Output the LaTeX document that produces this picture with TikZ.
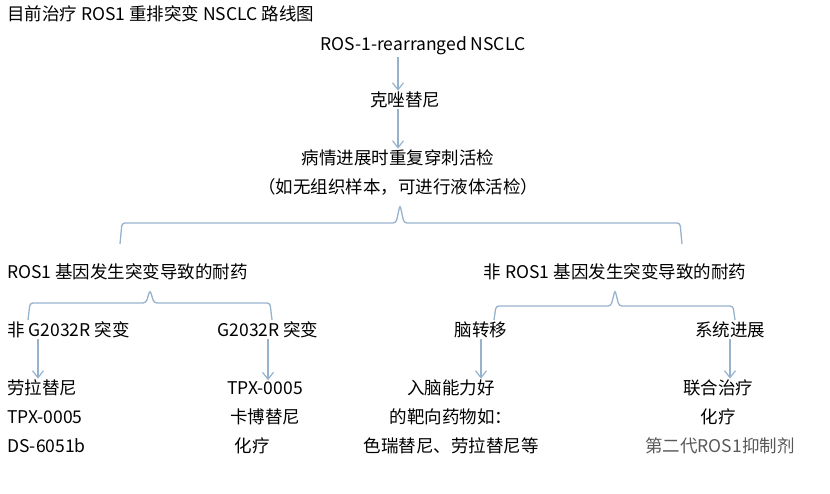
\documentclass[tikz,border=0pt]{standalone}
\usepackage{fontspec}
\setmainfont{Noto Sans CJK SC}
\usetikzlibrary{positioning,arrows.meta}
\definecolor{linkblue}{RGB}{150,178,205}
\tikzset{
  txt/.style={inner sep=1pt, font=\fontsize{17.5}{20}\selectfont},
  arr/.style={draw=linkblue, line width=1.2pt, -{Straight Barb[length=7pt,width=11pt]}},
  brace/.style={draw=linkblue, line width=1.3pt, rounded corners=3pt}
}
\begin{document}
\begin{tikzpicture}[x=1pt,y=-1pt]
	\useasboundingbox (0,0) rectangle (830,494);

	% top chain
	\node[txt, anchor=west] (title) at (6,14) {目前治疗 ROS1 重排突变 NSCLC 路线图};
	\node[txt] (ros) at (423,46) {ROS-1-rearranged NSCLC};
	\node[txt] (criz) at (405,100) {克唑替尼};
	\node[txt] (biopsy) at (398,158) {病情进展时重复穿刺活检};
	\node[txt] (liquid) at (398,187) {（如无组织样本，可进行液体活检）};
	\draw[arr] (398,57) -- (criz.north -| 398,0);
	\draw[arr] (criz.south -| 398,0) -- (biopsy.north -| 398,0);

	% main brace
	\draw[brace] (120,244) -- (122,223) -- (396,223) -- (400,205) -- (404,223) -- (680,223) -- (682,244);

	\node[txt, anchor=west] (mut) at (6,272) {ROS1 基因发生突变导致的耐药};
	\node[txt] (nonmut) at (615,272) {非 ROS1 基因发生突变导致的耐药};

	% sub braces
	\draw[brace] (28,320) -- (30,303) -- (146,303) -- (150,290) -- (154,303) -- (270,303) -- (272,320);
	\draw[brace] (494,320) -- (496,306) -- (611,306) -- (615,290) -- (619,306) -- (733,306) -- (735,320);

	\node[txt, anchor=west] (nong) at (6,330) {非 G2032R 突变};
	\node[txt] (g) at (268,330) {G2032R 突变};
	\node[txt] (brain) at (481,330) {脑转移};
	\node[txt] (sys) at (730,330) {系统进展};

	% outcomes
	\node[txt, anchor=west] (lor) at (6,388) {劳拉替尼};
	\node[txt, anchor=west] (tpxa) at (6,417) {TPX-0005};
	\node[txt, anchor=west] (ds) at (6,446) {DS-6051b};

	\node[txt] (tpxb) at (265,388) {TPX-0005};
	\node[txt] (cabo) at (265,417) {卡博替尼};
	\node[txt] (chemoa) at (252,446) {化疗};

	\node[txt] (good) at (451,388) {入脑能力好};
	\node[txt] (target) at (451,417) {的靶向药物如：};
	\node[txt] (seri) at (451,446) {色瑞替尼、劳拉替尼等};

	\node[txt] (comb) at (718,388) {联合治疗};
	\node[txt] (chemob) at (718,417) {化疗};
	\node[txt, text=black!65] (second) at (720,446) {第二代ROS1抑制剂};

	\draw[arr] (nong.south -| 38,0) -- (lor.north -| 38,0);
	\draw[arr] (g.south -| 268,0) -- (tpxb.north -| 268,0);
	\draw[arr] (brain.south -| 481,0) -- (good.north -| 481,0);
	\draw[arr] (sys.south -| 730,0) -- (comb.north -| 730,0);
\end{tikzpicture}
\end{document}
